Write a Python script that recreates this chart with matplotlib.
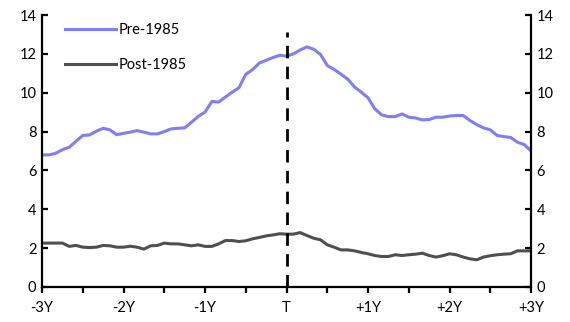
import numpy as np
import matplotlib
matplotlib.use("Agg")
import matplotlib.pyplot as plt

plt.rcParams["font.family"] = ["Lato", "DejaVu Sans"]

# months relative to T
months = np.arange(-36, 37)

pre_1985 = [
    6.80, 6.80, 6.88, 7.07, 7.19, 7.50, 7.80, 7.83, 8.02, 8.17, 8.09, 7.84,
    7.91, 7.97, 8.05, 7.97, 7.88, 7.88, 8.00, 8.14, 8.17, 8.19, 8.48, 8.78,
    9.00, 9.55, 9.52, 9.78, 10.03, 10.26, 10.95, 11.19, 11.53, 11.67, 11.81, 11.93,
    11.88,
    12.00, 12.20, 12.36, 12.24, 11.97, 11.40, 11.20, 10.96, 10.70, 10.30, 10.03, 9.74,
    9.17, 8.86, 8.77, 8.77, 8.91, 8.74, 8.70, 8.60, 8.62, 8.74, 8.74, 8.80,
    8.83, 8.83, 8.57, 8.36, 8.19, 8.09, 7.80, 7.74, 7.70, 7.45, 7.33, 7.00,
]

post_1985 = [
    2.26, 2.26, 2.26, 2.26, 2.09, 2.14, 2.05, 2.03, 2.05, 2.14, 2.12, 2.05,
    2.05, 2.10, 2.05, 1.95, 2.12, 2.14, 2.26, 2.22, 2.22, 2.17, 2.12, 2.17,
    2.09, 2.09, 2.22, 2.39, 2.39, 2.34, 2.38, 2.48, 2.55, 2.63, 2.68, 2.74,
    2.72,
    2.72, 2.80, 2.65, 2.51, 2.43, 2.17, 2.05, 1.91, 1.91, 1.86, 1.78, 1.71,
    1.62, 1.57, 1.57, 1.66, 1.62, 1.66, 1.69, 1.74, 1.62, 1.54, 1.61, 1.71,
    1.66, 1.54, 1.45, 1.40, 1.54, 1.61, 1.66, 1.69, 1.71, 1.86, 1.86, 1.86,
]

tick_pos = [-36, -24, -12, 0, 12, 24, 36]
tick_labels = ["-3Y", "-2Y", "-1Y", "T", "+1Y", "+2Y", "+3Y"]
y_ticks = [0, 2, 4, 6, 8, 10, 12, 14]

fig = plt.figure(figsize=(5.7, 3.22), dpi=100)
ax = fig.add_axes([0.0737, 0.1087, 0.858, 0.8447])

ax.plot(months, pre_1985, color="#7f7ff5", lw=2.2, label="Pre-1985")
ax.plot(months, post_1985, color="#4f4f4f", lw=2.2, label="Post-1985")
# event marker at T
ax.vlines(0, 0, 13.1, colors="black", lw=2.0, linestyles=(0, (4.5, 3)))

ax.set_xlim(-36, 36)
ax.set_ylim(0, 14)
ax.set_xticks(tick_pos)
ax.set_xticklabels(tick_labels)
ax.set_xticks(np.arange(-30, 36, 12), minor=True)
ax.set_yticks(y_ticks)

for side in ["left", "right", "bottom"]:
    ax.spines[side].set_linewidth(1.6)
    ax.spines[side].set_color("black")
ax.spines["top"].set_visible(False)

ax.tick_params(axis="y", which="both", direction="in", left=True, right=True,
               labelleft=True, labelright=True, length=4, width=1.6,
               labelsize=10.5, pad=4)
ax.tick_params(axis="x", which="both", direction="out", length=4, width=1.6,
               labelsize=10.5, pad=6)

ax.legend(loc="upper left", bbox_to_anchor=(0.047, 0.972), frameon=False,
          fontsize=10.5, handlelength=3.5, labelspacing=1.45, handletextpad=0.15,
          borderpad=0, borderaxespad=0)

fig.savefig("out.png", dpi=100)
